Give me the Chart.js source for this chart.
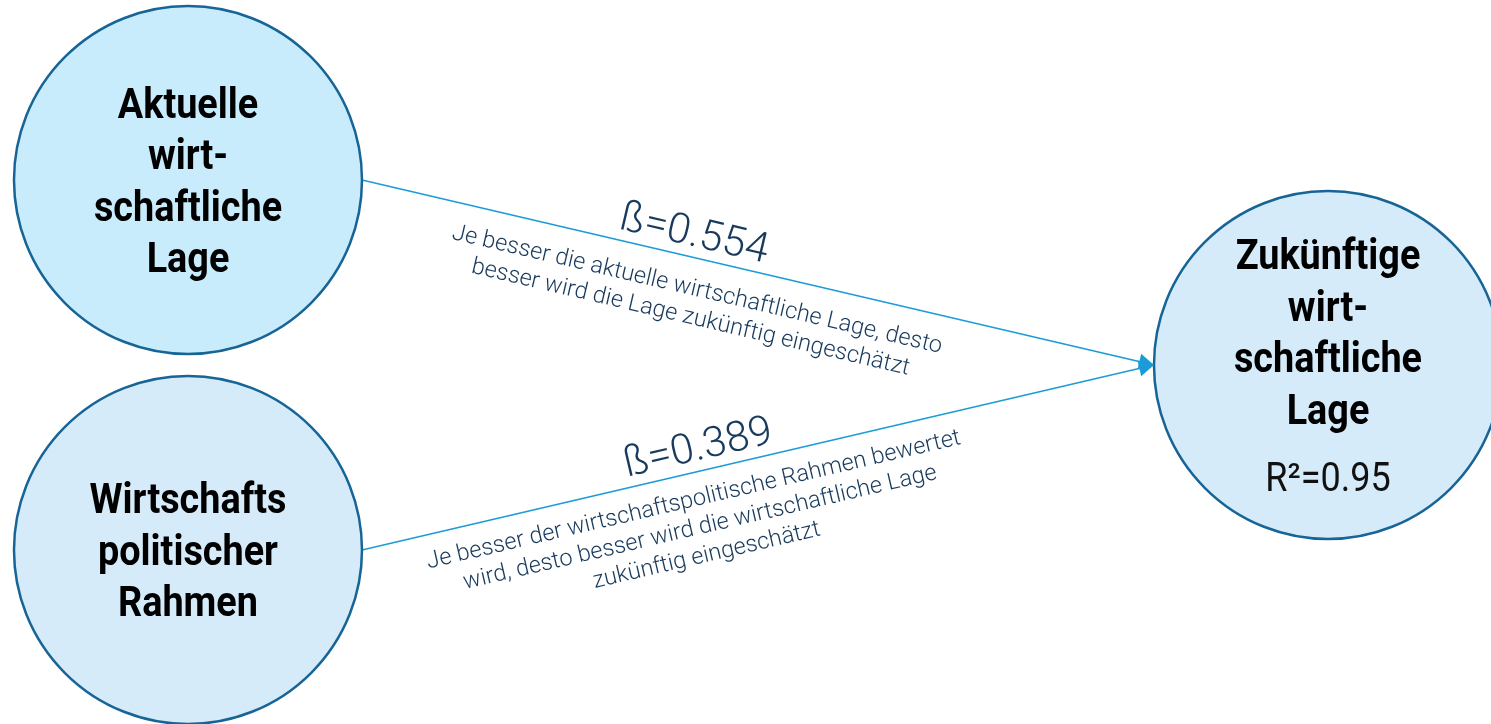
<!DOCTYPE html>
<html>
<head>
<meta charset="utf-8">
<script src="https://cdn.jsdelivr.net/npm/chart.js@4.4.1/dist/chart.umd.min.js"></script>
<style>
html,body{margin:0;padding:0;background:#ffffff;overflow:hidden}
#wrap{width:1491px;height:724px;position:relative}
</style>
</head>
<body>
<div id="wrap"><canvas id="c"></canvas></div>
<script>
// ---------- data ----------
const nodeLabelLines = [
  ["Aktuelle", "wirt-", "schaftliche", "Lage"],
  ["Wirtschafts", "politischer", "Rahmen"],
  ["Zukünftige", "wirt-", "schaftliche", "Lage"]
];
const nodeColumn = [0, 0, 1];        // layout column of each construct
const nodeRow = [0, 1, 0.5];         // layout row of each construct
const nodeR2 = [null, null, 0.95];   // explained variance
const edgeFrom = [0, 1];
const edgeTo = [2, 2];
const edgeBeta = [0.554, 0.389];
const edgeTextLines = [
  ["Je besser die aktuelle wirtschaftliche Lage, desto",
   "besser wird die Lage zukünftig eingeschätzt"],
  ["Je besser der wirtschaftspolitische Rahmen bewertet",
   "wird, desto besser wird die wirtschaftliche Lage",
   "zukünftig eingeschätzt"]
];

// ---------- styling / layout ----------
const W = 1491, H = 724;
const X_RANGE = [-0.1649, 1.1430];
const Y_RANGE = [-0.4865, 1.4703];
const NODE_R = 174;
const NODE_FILL = ["#c8ecfb", "#d6ebf9", "#d6ebf9"];
const NODE_STROKE = "#176496";
const EDGE_COLOR = "#1b9bd7";
const TEXT_DARK = "#183a5c";
const pxPerX = W / (X_RANGE[1] - X_RANGE[0]);
const rx = NODE_R / pxPerX;
// label placement along edges (fraction of length), per edge: [beta, description]
const EDGE_LABEL_T = [[0.413, 0.432], [0.431, 0.411]];

const canvas = document.getElementById('c');
canvas.width = W; canvas.height = H;

const nodeData = nodeColumn.map((c, i) => ({x: c, y: nodeRow[i]}));

const edgeDatasets = edgeFrom.map((f, k) => {
  const t = edgeTo[k];
  return {
    type: 'line',
    label: 'edge' + k,
    data: [{x: nodeColumn[f] + rx, y: nodeRow[f]}, {x: nodeColumn[t] - rx, y: nodeRow[t]}],
    borderColor: EDGE_COLOR,
    borderWidth: 1.5,
    pointRadius: 0,
    pointHoverRadius: 0,
    showLine: true,
    fill: false,
    tension: 0,
    clip: false,
    order: 1
  };
});

function drawScaledText(ctx, text, x, y, sx) {
  ctx.save();
  ctx.translate(x, y);
  ctx.scale(sx, 1);
  ctx.fillText(text, 0, 0);
  ctx.restore();
}

const labelPlugin = {
  id: 'labels',
  afterDatasetsDraw(chart) {
    const ctx = chart.ctx;
    edgeFrom.forEach((f, k) => {
      const pts = chart.getDatasetMeta(k + 1).data;
      const a = pts[0], b = pts[1];
      const ang = Math.atan2(b.y - a.y, b.x - a.x);
      const len = Math.hypot(b.x - a.x, b.y - a.y);
      const dx = Math.cos(ang), dy = Math.sin(ang);
      // arrowhead
      const L = 15, hw = 8;
      ctx.save();
      ctx.fillStyle = EDGE_COLOR;
      ctx.beginPath();
      ctx.moveTo(b.x, b.y);
      ctx.lineTo(b.x - L * dx - hw * dy, b.y - L * dy + hw * dx);
      ctx.lineTo(b.x - L * dx + hw * dy, b.y - L * dy - hw * dx);
      ctx.closePath();
      ctx.fill();
      ctx.restore();

      // beta label
      ctx.save();
      ctx.fillStyle = TEXT_DARK;
      ctx.textAlign = 'center';
      ctx.textBaseline = 'alphabetic';
      let s = EDGE_LABEL_T[k][0] * len;
      ctx.translate(a.x + dx * s, a.y + dy * s);
      ctx.rotate(ang);
      ctx.font = '300 42px Roboto';
      ctx.fillText('ß=' + edgeBeta[k].toFixed(3), 0, -11);
      ctx.restore();

      // description
      ctx.save();
      ctx.fillStyle = TEXT_DARK;
      ctx.textAlign = 'center';
      ctx.textBaseline = 'alphabetic';
      s = EDGE_LABEL_T[k][1] * len;
      ctx.translate(a.x + dx * s, a.y + dy * s);
      ctx.rotate(ang);
      ctx.font = '300 23.5px Roboto';
      const base = k === 0 ? 37 : 33;
      edgeTextLines[k].forEach((ln, i) => {
        ctx.fillText(ln, 0, base + i * 28.5);
      });
      ctx.restore();
    });

    // node labels
    const nodes = chart.getDatasetMeta(0).data;
    nodes.forEach((pt, i) => {
      const lines = nodeLabelLines[i];
      const n = lines.length;
      const LH = 51.5;
      const extra = nodeR2[i] !== null ? 67 : 0;
      const b0 = pt.y + 15 - (LH * (n - 1) + extra) / 2;
      ctx.save();
      ctx.fillStyle = '#000000';
      ctx.textAlign = 'center';
      ctx.textBaseline = 'alphabetic';
      ctx.font = 'bold 42px Roboto';
      lines.forEach((ln, j) => drawScaledText(ctx, ln, pt.x, b0 + j * LH, 0.9));
      if (nodeR2[i] !== null) {
        ctx.font = '400 40px Roboto';
        ctx.fillStyle = '#111111';
        drawScaledText(ctx, 'R²=' + nodeR2[i].toFixed(2), pt.x, b0 + (n - 1) * LH + extra, 0.9);
      }
      ctx.restore();
    });
  }
};

new Chart(canvas, {
  type: 'scatter',
  data: {
    datasets: [
      {
        label: 'nodes',
        data: nodeData,
        pointRadius: NODE_R,
        pointHoverRadius: NODE_R,
        pointBackgroundColor: NODE_FILL,
        pointBorderColor: NODE_STROKE,
        pointBorderWidth: 2.5,
        pointHoverBorderWidth: 2.5,
        clip: false,
        order: 0
      },
      ...edgeDatasets
    ]
  },
  options: {
    responsive: false,
    animation: false,
    events: [],
    layout: {padding: 0, autoPadding: false},
    plugins: {legend: {display: false}, tooltip: {enabled: false}},
    scales: {
      x: {type: 'linear', display: false, min: X_RANGE[0], max: X_RANGE[1]},
      y: {type: 'linear', display: false, min: Y_RANGE[0], max: Y_RANGE[1], reverse: true}
    }
  },
  plugins: [labelPlugin]
});
</script>
</body>
</html>
